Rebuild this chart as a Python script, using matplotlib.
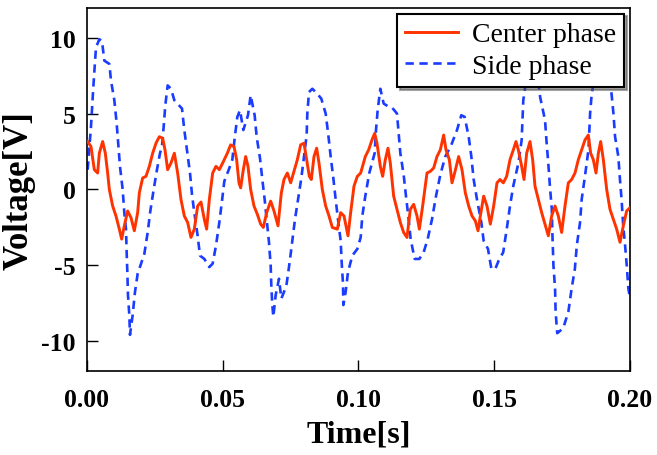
import numpy as np
import matplotlib
matplotlib.use("Agg")
import matplotlib.pyplot as plt

# time in ms, voltage in V
t_center = [0.25, 1.47, 2.70, 3.93, 4.54, 5.77, 6.75, 7.61, 8.23, 9.45,
            10.68, 11.91, 12.77, 13.75, 14.98, 16.20, 17.43, 18.66, 19.28, 20.50,
            21.73, 22.96, 24.19, 25.41, 26.64, 27.87, 28.73, 29.71, 30.94, 32.17,
            33.39, 34.62, 35.85, 37.08, 38.30, 39.53, 40.76, 41.99, 43.21, 44.07,
            45.06, 46.29, 47.51, 48.74, 49.97, 51.69, 52.91, 54.14, 55.12, 55.98,
            56.60, 57.58, 58.44, 59.30, 60.28, 61.51, 62.74, 63.97, 64.95, 66.18,
            67.65, 68.88, 70.35, 71.58, 72.56, 73.79, 75.02, 76.24, 77.47, 78.70,
            79.93, 80.91, 81.89, 82.63, 83.61, 84.59, 85.45, 86.68, 87.91, 89.14,
            90.36, 92.20, 93.43, 94.66, 96.13, 97.11, 98.34, 99.57, 100.80, 102.52,
            103.74, 104.97, 105.95, 106.81, 108.04, 108.90, 109.88, 110.86, 111.72, 112.95,
            114.18, 115.41, 116.63, 117.86, 119.09, 120.32, 121.55, 122.41, 123.63, 125.23,
            126.46, 127.69, 128.91, 130.14, 131.37, 132.23, 133.46, 134.44, 135.42, 136.89,
            138.12, 139.35, 140.58, 141.81, 143.03, 144.02, 144.88, 146.10, 147.33, 148.56,
            149.79, 151.01, 152.12, 153.35, 154.57, 155.80, 157.03, 158.01, 158.87, 160.10,
            160.96, 161.94, 163.17, 164.15, 165.01, 166.24, 167.47, 168.69, 169.92, 171.15,
            172.38, 173.60, 174.83, 176.06, 177.29, 178.51, 179.74, 180.97, 182.20, 183.43,
            184.65, 185.51, 186.49, 187.48, 188.34, 189.20, 190.18, 191.41, 192.63, 193.86,
            195.09, 196.32, 197.54, 198.77, 200.00]
v_center = [3.17, 2.84, 1.31, 1.09, 2.40, 3.17, 2.40, 1.09, 0.00, -1.09,
            -1.75, -2.62, -3.28, -2.40, -1.42, -1.86, -2.73, -1.53, -0.22, 0.76,
            0.87, 1.53, 2.40, 3.06, 3.49, 3.39, 2.62, 1.31, 1.75, 2.40,
            1.09, -0.66, -1.75, -2.18, -3.17, -2.62, -1.09, -0.83, -1.97, -2.62,
            -0.66, 1.09, 1.53, 1.31, 1.75, 2.40, 2.95, 2.84, 1.97, 0.44,
            0.11, 1.31, 2.18, 1.53, 0.00, -1.09, -1.64, -2.29, -2.51, -1.53,
            -0.77, -1.42, -2.40, -0.22, 0.66, 1.09, 0.44, 1.20, 1.97, 2.95,
            3.06, 1.97, 0.87, 0.66, 2.18, 2.73, 1.75, 0.00, -1.09, -1.75,
            -2.51, -2.62, -1.53, -1.75, -3.06, -1.53, 0.22, 0.87, 1.09, 2.18,
            2.62, 3.28, 3.71, 3.06, 1.53, 0.87, 1.97, 2.73, 1.75, -0.44,
            -1.31, -2.18, -2.84, -3.17, -1.31, -0.98, -1.75, -2.62, -1.09, 1.09,
            1.20, 1.42, 2.18, 2.62, 3.60, 2.62, 1.97, 0.44, 1.09, 2.18,
            1.31, -0.22, -1.09, -1.75, -2.07, -2.73, -1.75, -0.44, -1.09, -2.29,
            -1.09, 0.44, 0.66, 0.44, 0.87, 1.97, 2.62, 3.17, 2.62, 1.53,
            0.66, 2.40, 3.17, 1.97, 0.22, -0.66, -1.53, -2.29, -3.06, -1.75,
            -1.09, -1.75, -2.84, -1.09, 0.44, 0.66, 1.09, 1.97, 2.62, 3.28,
            3.60, 2.40, 1.97, 1.09, 2.40, 3.17, 1.97, 0.00, -1.31, -1.97,
            -2.62, -3.49, -2.40, -1.42, -1.20]

t_side = [0.25, 1.47, 2.33, 3.31, 4.54, 5.52, 6.38, 8.23, 8.84, 10.07,
          10.93, 11.54, 12.15, 13.14, 13.75, 14.37, 14.61, 14.86, 15.10, 15.59,
          15.84, 16.82, 17.68, 18.66, 21.12, 22.35, 23.33, 24.56, 25.78, 26.89,
          27.62, 28.24, 28.85, 29.71, 30.94, 32.17, 34.99, 35.85, 36.83, 37.94,
          38.67, 39.53, 40.76, 41.62, 43.21, 45.06, 46.29, 47.51, 48.74, 49.72,
          50.58, 52.20, 53.53, 54.39, 55.37, 56.35, 57.58, 59.30, 60.28, 61.75,
          62.49, 63.72, 64.58, 65.44, 66.18, 67.03, 67.65, 67.89, 68.26, 68.63,
          69.49, 70.72, 71.58, 72.56, 73.54, 74.65, 75.63, 76.61, 77.72, 78.95,
          79.93, 80.91, 81.15, 81.77, 83.00, 84.84, 86.31, 87.91, 88.89, 89.75,
          90.73, 91.59, 92.45, 93.43, 93.80, 94.29, 94.41, 95.27, 96.13, 97.73,
          99.57, 100.80, 101.41, 102.50, 103.98, 105.95, 106.45, 107.06, 108.04, 109.27,
          110.86, 112.34, 114.18, 115.41, 116.63, 117.49, 118.48, 119.21, 120.69, 122.41,
          124.00, 125.48, 127.07, 128.54, 130.14, 131.98, 134.19, 136.28, 137.87, 139.10,
          140.58, 141.56, 142.42, 143.64, 145.24, 146.10, 147.70, 148.93, 150.40, 151.63,
          153.30, 154.60, 155.80, 157.00, 158.90, 160.10, 160.70, 162.80, 165.50, 166.90,
          168.70, 169.30, 169.90, 170.50, 171.20, 171.40, 171.80, 172.40, 172.60, 173.20,
          175.40, 177.30, 178.50, 179.70, 180.40, 181.60, 182.20, 183.40, 184.70, 185.30,
          185.90, 188.50, 191.50, 193.20, 193.90, 194.50, 195.70, 196.30, 196.90, 197.50,
          198.20, 198.80, 199.40, 200.00]
v_side = [1.31, 4.15, 6.77, 9.39, 9.93, 9.83, 8.52, 8.30, 7.21, 5.90,
          4.37, 2.95, 1.53, 0.00, -1.53, -2.62, -4.15, -5.46, -6.99, -8.30,
          -9.61, -8.30, -6.77, -5.57, -4.26, -2.84, -1.42, 0.00, 1.31, 2.40,
          2.84, 4.15, 5.57, 6.88, 6.66, 5.90, 5.35, 3.93, 2.62, 1.09,
          -0.33, -1.53, -3.06, -4.37, -4.59, -5.13, -4.90, -3.71, -2.18, -0.76,
          0.55, 1.30, 1.97, 3.39, 4.80, 5.24, 3.93, 4.91, 6.23, 4.91,
          3.49, 2.07, 0.66, -0.66, -1.97, -3.49, -5.02, -6.33, -7.64, -8.41,
          -6.99, -5.90, -7.21, -6.77, -6.23, -4.80, -3.39, -1.97, -0.66, 0.76,
          2.18, 3.60, 5.02, 6.44, 6.66, 6.33, 6.00, 5.02, 3.60, 2.18,
          0.76, -0.66, -1.97, -3.39, -4.80, -6.23, -7.64, -6.77, -5.46, -4.37,
          -3.93, -3.17, -1.75, -0.44, 1.09, 2.40, 3.93, 5.24, 6.66, 5.68,
          5.50, 5.42, 5.02, 2.40, 0.98, -0.44, -1.97, -3.28, -4.59, -4.59,
          -4.15, -3.28, -1.97, -0.44, 0.98, 2.18, 2.95, 3.93, 4.91, 4.80,
          3.49, 2.18, 0.66, -0.66, -2.18, -3.39, -3.93, -5.24, -5.24, -4.70,
          -4.15, -2.62, -1.09, 0.22, 1.75, 3.28, 5.90, 8.50, 8.30, 6.11,
          4.59, 3.06, 1.75, 0.22, -1.31, -2.84, -5.02, -6.55, -8.08, -9.50,
          -9.17, -8.08, -6.55, -5.24, -3.71, -2.18, -0.66, 0.87, 2.62, 5.02,
          6.33, 9.00, 8.80, 6.33, 5.02, 3.49, 2.18, 0.66, -0.66, -2.40,
          -3.71, -5.02, -6.55, -7.20]

xticks = [0.00, 0.05, 0.10, 0.15, 0.20]
yticks = [-10, -5, 0, 5, 10]

plt.rcParams['font.family'] = ['Liberation Serif', 'DejaVu Serif']
plt.rcParams['lines.scale_dashes'] = False

fig = plt.figure(figsize=(6.57, 4.56), dpi=100)
ax = fig.add_axes([0.1324, 0.1842, 0.8265, 0.7961])

ax.plot(np.array(t_center) / 1000, v_center, color='#ff3300', lw=2.1,
        label='Center phase', zorder=3)
ax.plot(np.array(t_side) / 1000, v_side, color='#1a3cff', lw=1.9,
        dashes=(6.0, 4.0), label='Side phase', zorder=2)

ax.set_xlim(0, 0.2)
ax.set_ylim(-12, 12)
ax.set_xticks(xticks)
ax.set_xticklabels(['%.2f' % v for v in xticks])
ax.set_yticks(yticks)
ax.set_yticklabels([str(v) for v in yticks])

ax.tick_params(direction='in', length=8, width=1.0, top=False, right=False,
               labelsize=18.5)
ax.tick_params(axis='x', pad=12)
ax.tick_params(axis='y', pad=8)
for lab in ax.get_xticklabels() + ax.get_yticklabels():
    lab.set_fontweight('bold')
for sp in ax.spines.values():
    sp.set_linewidth(1.2)

ax.set_xlabel('Time[s]', fontsize=23, fontweight='bold', labelpad=6)
ax.set_ylabel('Voltage[V]', fontsize=25, fontweight='bold', labelpad=4)

leg = ax.legend(loc='upper right', fontsize=20, frameon=True, fancybox=False,
                shadow=True, framealpha=1, edgecolor='black',
                borderaxespad=0.2, handlelength=1.9, handletextpad=0.5,
                borderpad=0.3, labelspacing=0.22)
leg.get_frame().set_linewidth(1.5)
leg.set_zorder(5)

fig.savefig('out.png', dpi=100)
